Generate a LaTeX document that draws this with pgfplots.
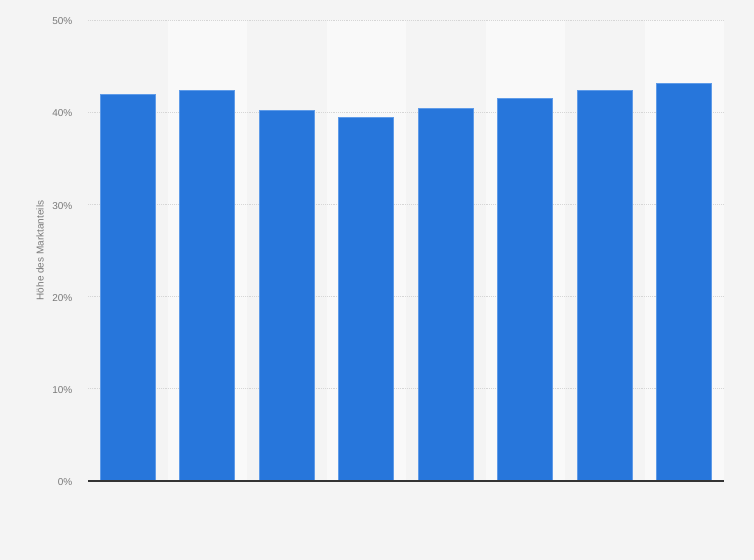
\documentclass[border=0pt]{standalone}
\usepackage{pgfplots}
\pgfplotsset{compat=1.18}
\usepackage{fontspec}
\setmainfont{Liberation Sans}

\definecolor{bgpage}{HTML}{F4F4F4}
\definecolor{stripe}{HTML}{F9F9F9}
\definecolor{barblue}{HTML}{2776DB}
\definecolor{baredge}{HTML}{5F9BE8}
\definecolor{ticktext}{HTML}{7A7A7A}

\begin{document}
\begin{tikzpicture}[x=0.75pt,y=0.75pt]
  % page background, 754 x 560 px (y measured from the bottom)
  \useasboundingbox (0,0) rectangle (754,560);
  \fill[bgpage] (0,0) rectangle (754,560);
  % alternating column backgrounds (columns 2, 4, 6, 8)
  \foreach \c in {1,3,5,7} {
    \fill[stripe] ({88+79.5*\c},79) rectangle ({88+79.5*(\c+1)},540);
  }
  \begin{axis}[
      at={(66pt,59.25pt)}, anchor=south west,
      scale only axis,
      width=477pt, height=345.75pt,
      ymin=0, ymax=50,
      xmin=-0.5, xmax=7.5,
      ytick={0,10,...,50},
      yticklabel={\pgfmathprintnumber{\tick}\%},
      /pgf/number format/assume math mode=true,
      yticklabel style={font=\fontsize{7.5}{9}\selectfont, text=ticktext, xshift=-8.25pt, yshift=-1pt},
      xtick=\empty,
      ymajorgrids=true,
      grid style={densely dotted, color=black!16, line width=0.6pt},
      axis line style={draw=none},
      major tick length=0pt,
      ylabel={Höhe des Marktanteils},
      ylabel style={at={(axis description cs:-0.0755,0.5)}, anchor=center,
                    font=\fontsize{7.5}{9}\selectfont, text=ticktext},
      ybar, bar width=41.25pt,
      clip=false,
    ]
    \addplot[fill=barblue, draw=baredge, line width=0.5pt]
      coordinates {(0,41.9) (1,42.4) (2,40.2) (3,39.4) (4,40.4) (5,41.5) (6,42.4) (7,43.1)};
    \draw[color=black!80, line width=0.8pt] (axis cs:-0.5,0) -- (axis cs:7.5,0);
  \end{axis}
\end{tikzpicture}
\end{document}
